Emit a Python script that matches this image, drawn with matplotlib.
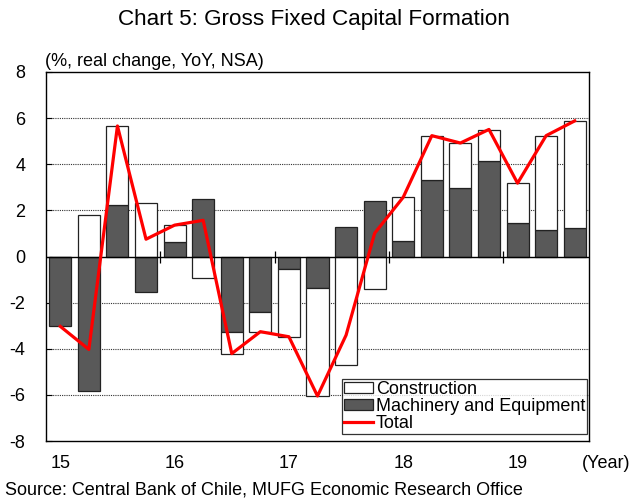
import matplotlib
matplotlib.use("Agg")
import matplotlib.pyplot as plt
from matplotlib.patches import Patch
from matplotlib.lines import Line2D
import numpy as np

plt.rcParams['font.family'] = ['Liberation Sans', 'DejaVu Sans']
plt.rcParams['axes.unicode_minus'] = False

quarters = ["15Q1","15Q2","15Q3","15Q4","16Q1","16Q2","16Q3","16Q4",
            "17Q1","17Q2","17Q3","17Q4","18Q1","18Q2","18Q3","18Q4",
            "19Q1","19Q2","19Q3"]
construction = [0.0, 1.82, 3.42, 2.30, 0.70, -0.92, -0.95, -0.86,
                -2.92, -4.69, -4.70, -1.39, 1.92, 1.93, 1.93, 1.37,
                1.73, 4.10, 4.64]
machinery = [-3.03, -5.85, 2.22, -1.55, 0.65, 2.49, -3.26, -2.40,
             -0.56, -1.36, 1.29, 2.39, 0.66, 3.31, 2.99, 4.13,
             1.46, 1.14, 1.23]
total = [-3.03, -4.03, 5.66, 0.75, 1.36, 1.57, -4.21, -3.26,
         -3.48, -6.05, -3.41, 1.01, 2.57, 5.24, 4.92, 5.51,
         3.18, 5.24, 5.88]
year_labels = ["15", "16", "17", "18", "19"]

x = np.arange(len(quarters))
mach = np.array(machinery)
cons = np.array(construction)
cons_bottom = np.where(np.sign(cons) == np.sign(mach), mach, 0.0)

fig = plt.figure(figsize=(6.32, 4.99), dpi=100)
ax = fig.add_axes([46/632, 1-441/499, (589-46)/632, (441-72)/499])

w = 0.77
ax.bar(x, mach, width=w, color='#595959', edgecolor='#222222', linewidth=0.9, zorder=2)
ax.bar(x, cons, width=w, bottom=cons_bottom, color='white', edgecolor='#222222',
       linewidth=0.9, zorder=2)
ax.plot(x, total, color='#ff0000', linewidth=2.3, zorder=4)

ax.set_xlim(-0.5, len(x)-0.5)
ax.set_ylim(-8, 8)
ax.set_yticks(np.arange(-8, 9, 2))
ax.tick_params(axis='y', direction='in', length=4, labelsize=13, pad=15)
for yy in [-6, -4, -2, 2, 4, 6]:
    ax.axhline(yy, color='#333333', linewidth=0.8, linestyle=(0, (1, 1)), zorder=1)
ax.axhline(0, color='black', linewidth=1.0, zorder=3)

# year boundary ticks on zero line
year_pos = [i for i, q in enumerate(quarters) if q.endswith("Q1")]
bounds = [p - 0.5 for p in year_pos[1:]]
ax.vlines(bounds, -0.3, 0.25, color='black', linewidth=0.9, zorder=3)

ax.set_xticks(year_pos)
ax.set_xticklabels(year_labels)
ax.tick_params(axis='x', length=0, labelsize=13, pad=10)

for s in ax.spines.values():
    s.set_linewidth(1.0)
    s.set_color('black')

fig.text(606/632, 1-464/499, "(Year)", ha='center', va='center', fontsize=13)
fig.text(45/632, 1-62/499, "(%, real change, YoY, NSA)", ha='left', va='center', fontsize=13)
fig.text(314/632, 1-20/499, "Chart 5: Gross Fixed Capital Formation", ha='center',
         va='center', fontsize=16.2)
fig.text(5/632, 1-490/499, "Source: Central Bank of Chile, MUFG Economic Research Office",
         ha='left', va='center', fontsize=13)

handles = [Patch(facecolor='white', edgecolor='#222222', linewidth=0.9),
           Patch(facecolor='#595959', edgecolor='#222222', linewidth=0.9),
           Line2D([0], [0], color='#ff0000', linewidth=2.3)]
labels = ['Construction', 'Machinery and Equipment', 'Total']
leg = ax.legend(handles, labels, loc='lower right',
                bbox_to_anchor=(1.0 - 2/543, 7/369), fontsize=13, frameon=True, fancybox=False,
                edgecolor='black', handlelength=1.6, handleheight=0.55,
                handletextpad=0.15, labelspacing=0.0, borderpad=0.1, borderaxespad=0.0)
leg.get_frame().set_linewidth(0.9)

fig.savefig("out.png", dpi=100)
